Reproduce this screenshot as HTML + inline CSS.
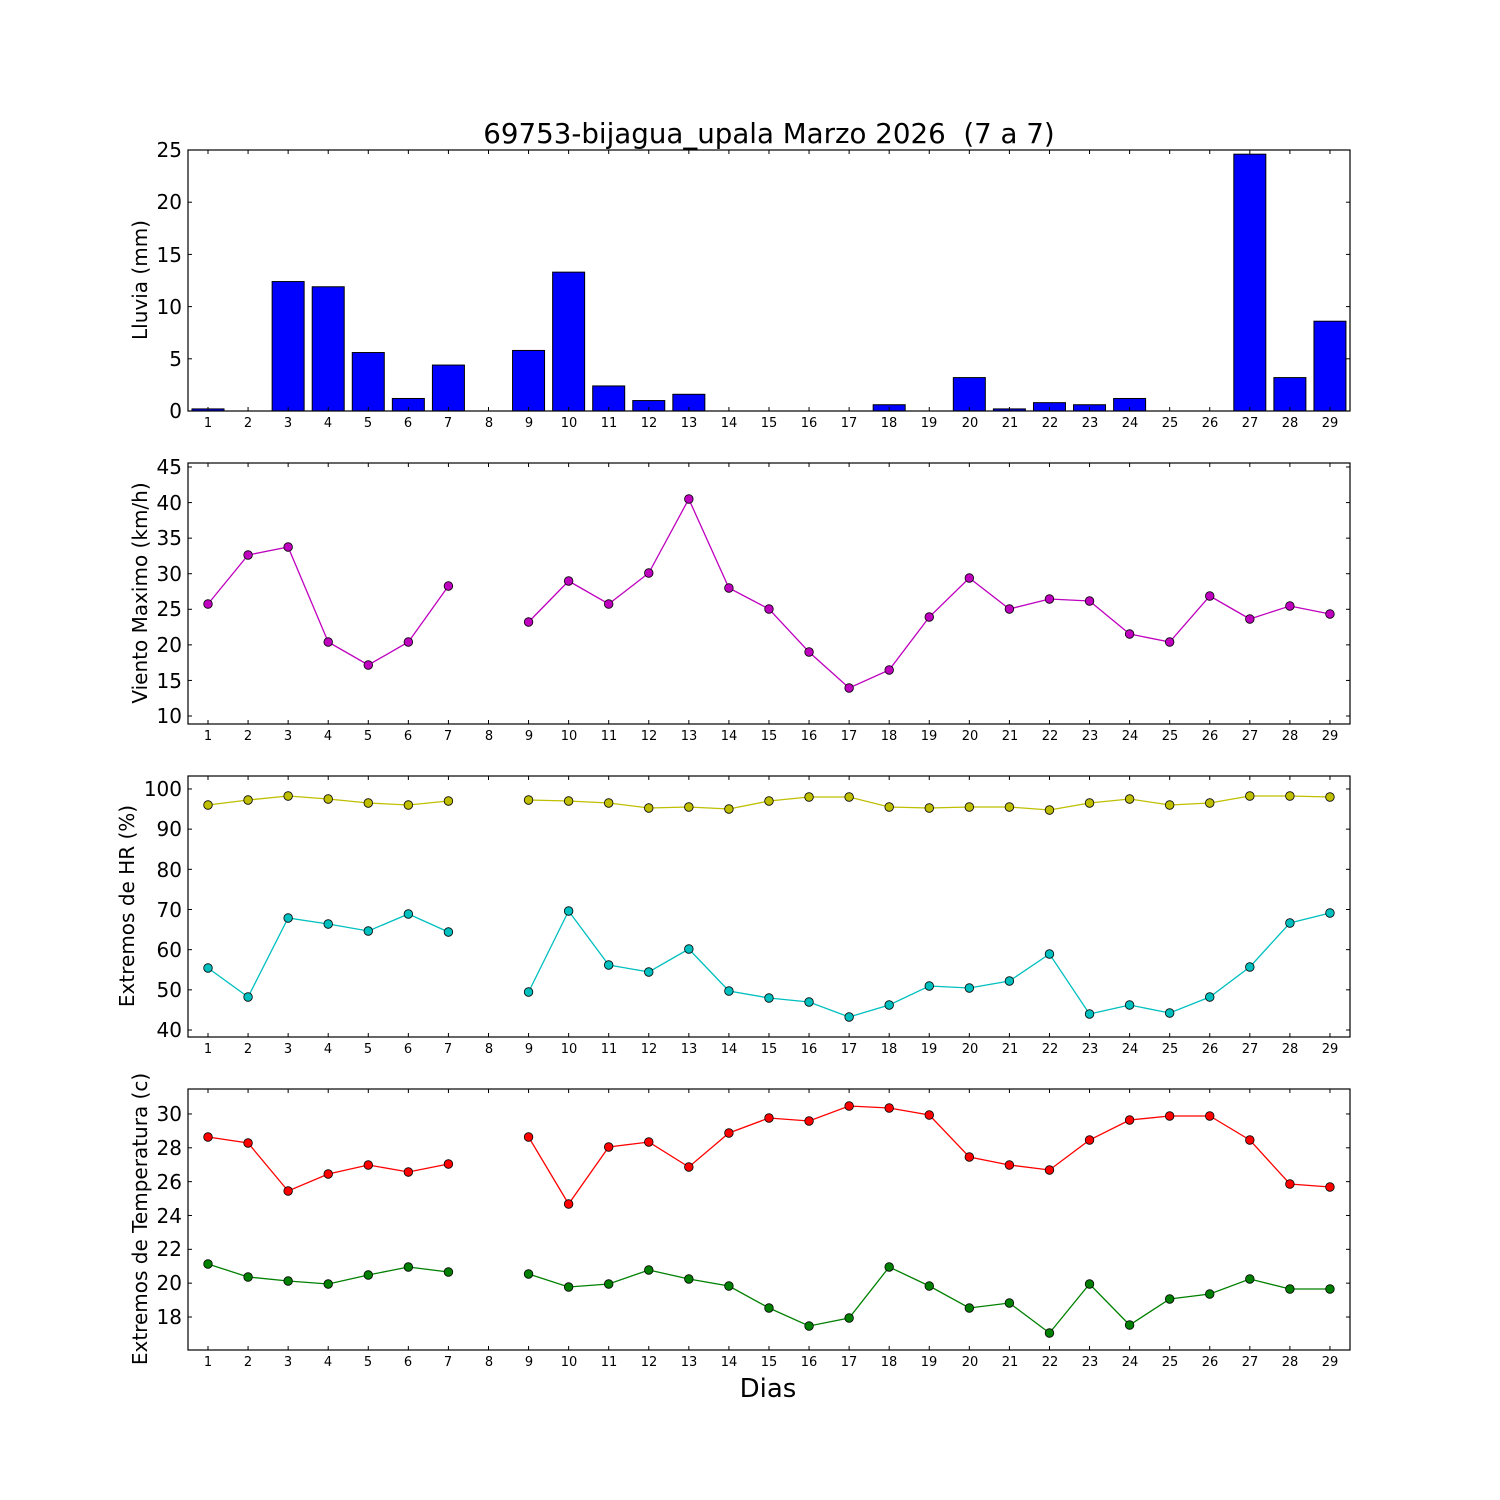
<!DOCTYPE html>
<html><head><meta charset="utf-8"><style>
body{margin:0;background:#fff}
svg{display:block}
text{font-family:"DejaVu Sans","Liberation Sans",sans-serif;fill:#000}
.yt{font-size:20px;text-anchor:end}
.xt{font-size:13px;text-anchor:middle}
.yl{font-size:20px;text-anchor:middle}
</style></head><body>
<svg id="s" width="1500" height="1500" xmlns="http://www.w3.org/2000/svg">
<rect width="1500" height="1500" fill="#fff"/>
<g id="shapes"></g>
<text x="769" y="143" font-size="27.7" text-anchor="middle" style="white-space:pre" xml:space="preserve">69753-bijagua_upala Marzo 2026  (7 a 7)</text>
<text x="768" y="1397" font-size="26" text-anchor="middle">Dias</text>
<text class="yl" transform="translate(147,280) rotate(-90)">Lluvia (mm)</text>
<text class="yl" transform="translate(147,593) rotate(-90)">Viento Maximo (km/h)</text>
<text class="yl" transform="translate(134,906) rotate(-90)">Extremos de HR (%)</text>
<text class="yl" transform="translate(147,1219) rotate(-90)">Extremos de Temperatura (c)</text>
<g class="yt">
<text x="182" y="418">0</text><text x="182" y="366">5</text><text x="182" y="314">10</text><text x="182" y="262">15</text><text x="182" y="209">20</text><text x="182" y="157">25</text>
<text x="182" y="723">10</text><text x="182" y="688">15</text><text x="182" y="652">20</text><text x="182" y="616">25</text><text x="182" y="581">30</text><text x="182" y="545">35</text><text x="182" y="510">40</text><text x="182" y="474">45</text>
<text x="182" y="1037">40</text><text x="182" y="997">50</text><text x="182" y="957">60</text><text x="182" y="917">70</text><text x="182" y="877">80</text><text x="182" y="836">90</text><text x="182" y="796">100</text>
<text x="182" y="1324">18</text><text x="182" y="1290">20</text><text x="182" y="1256">22</text><text x="182" y="1223">24</text><text x="182" y="1189">26</text><text x="182" y="1155">28</text><text x="182" y="1121">30</text>
</g>
<g class="xt">
<g transform="translate(0,427)"><text x="208">1</text><text x="248">2</text><text x="288">3</text><text x="328">4</text><text x="368">5</text><text x="408">6</text><text x="448">7</text><text x="489">8</text><text x="529">9</text><text x="569">10</text><text x="609">11</text><text x="649">12</text><text x="689">13</text><text x="729">14</text><text x="769">15</text><text x="809">16</text><text x="849">17</text><text x="889">18</text><text x="929">19</text><text x="970">20</text><text x="1010">21</text><text x="1050">22</text><text x="1090">23</text><text x="1130">24</text><text x="1170">25</text><text x="1210">26</text><text x="1250">27</text><text x="1290">28</text><text x="1330">29</text></g>
<g transform="translate(0,740)"><text x="208">1</text><text x="248">2</text><text x="288">3</text><text x="328">4</text><text x="368">5</text><text x="408">6</text><text x="448">7</text><text x="489">8</text><text x="529">9</text><text x="569">10</text><text x="609">11</text><text x="649">12</text><text x="689">13</text><text x="729">14</text><text x="769">15</text><text x="809">16</text><text x="849">17</text><text x="889">18</text><text x="929">19</text><text x="970">20</text><text x="1010">21</text><text x="1050">22</text><text x="1090">23</text><text x="1130">24</text><text x="1170">25</text><text x="1210">26</text><text x="1250">27</text><text x="1290">28</text><text x="1330">29</text></g>
<g transform="translate(0,1053)"><text x="208">1</text><text x="248">2</text><text x="288">3</text><text x="328">4</text><text x="368">5</text><text x="408">6</text><text x="448">7</text><text x="489">8</text><text x="529">9</text><text x="569">10</text><text x="609">11</text><text x="649">12</text><text x="689">13</text><text x="729">14</text><text x="769">15</text><text x="809">16</text><text x="849">17</text><text x="889">18</text><text x="929">19</text><text x="970">20</text><text x="1010">21</text><text x="1050">22</text><text x="1090">23</text><text x="1130">24</text><text x="1170">25</text><text x="1210">26</text><text x="1250">27</text><text x="1290">28</text><text x="1330">29</text></g>
<g transform="translate(0,1366)"><text x="208">1</text><text x="248">2</text><text x="288">3</text><text x="328">4</text><text x="368">5</text><text x="408">6</text><text x="448">7</text><text x="489">8</text><text x="529">9</text><text x="569">10</text><text x="609">11</text><text x="649">12</text><text x="689">13</text><text x="729">14</text><text x="769">15</text><text x="809">16</text><text x="849">17</text><text x="889">18</text><text x="929">19</text><text x="970">20</text><text x="1010">21</text><text x="1050">22</text><text x="1090">23</text><text x="1130">24</text><text x="1170">25</text><text x="1210">26</text><text x="1250">27</text><text x="1290">28</text><text x="1330">29</text></g>
</g>
</svg>
<script>
var NS="http://www.w3.org/2000/svg",G=document.getElementById("shapes");
function el(t,a){var e=document.createElementNS(NS,t);for(var k in a)e.setAttribute(k,a[k]);G.appendChild(e);return e;}
function X(d){return 208+(d-1)*40.07;}
var rain=[0.2,0,12.4,11.9,5.6,1.2,4.4,null,5.8,13.3,2.4,1.0,1.6,0,0,0,0,0.6,0,3.2,0.2,0.8,0.6,1.2,0,0,24.6,3.2,8.6];
rain.forEach(function(v,i){if(v===null)return;var h=v*10.44;el("rect",{x:X(i+1)-16,y:411-h,width:32,height:h,fill:"#0000ff",stroke:"#000","stroke-width":1});});
var series=[
 {c:"#bf00bf",p:[604,555,547,642,665,642,586,null,622,581,604,573,499,588,609,652,688,670,617,578,609,599,601,634,642,596,619,606,614]},
 {c:"#bfbf00",p:[805,800,796,799,803,805,801,null,800,801,803,808,807,809,801,797,797,807,808,807,807,810,803,799,805,803,796,796,797]},
 {c:"#00bfbf",p:[968,997,918,924,931,914,932,null,992,911,965,972,949,991,998,1002,1017,1005,986,988,981,954,1014,1005,1013,997,967,923,913]},
 {c:"#ff0000",p:[1137,1143,1191,1174,1165,1172,1164,null,1137,1204,1147,1142,1167,1133,1118,1121,1106,1108,1115,1157,1165,1170,1140,1120,1116,1116,1140,1184,1187]},
 {c:"#008000",p:[1264,1277,1281,1284,1275,1267,1272,null,1274,1287,1284,1270,1279,1286,1308,1326,1318,1267,1286,1308,1303,1333,1284,1325,1299,1294,1279,1289,1289]}];
series.forEach(function(s){
 var segs=[[]];s.p.forEach(function(y,i){if(y===null){segs.push([]);return;}segs[segs.length-1].push(X(i+1).toFixed(1)+","+y);});
 segs.forEach(function(sg){if(sg.length>1)el("polyline",{points:sg.join(" "),fill:"none",stroke:s.c,"stroke-width":1.3});});
 s.p.forEach(function(y,i){if(y!==null)el("circle",{cx:X(i+1),cy:y,r:4.3,fill:s.c,stroke:"#000","stroke-width":0.8});});
});
var panels=[[150,411,[0,5,10,15,20,25].map(function(v){return 411-v*10.44})],
 [463,724,[10,15,20,25,30,35,40,45].map(function(v){return 716-(v-10)*7.114})],
 [776,1037,[40,50,60,70,80,90,100].map(function(v){return 1030-(v-40)*4.017})],
 [1089,1350,[18,20,22,24,26,28,30].map(function(v){return 1317-(v-18)*16.92})]];
panels.forEach(function(p){
 var t=p[0],b=p[1];
 for(var d=1;d<=29;d++){var x=X(d);el("line",{x1:x,x2:x,y1:b,y2:b-4,stroke:"#000"});el("line",{x1:x,x2:x,y1:t,y2:t+4,stroke:"#000"});}
 p[2].forEach(function(y){el("line",{x1:188,x2:192,y1:y,y2:y,stroke:"#000"});el("line",{x1:1350,x2:1346,y1:y,y2:y,stroke:"#000"});});
 el("rect",{x:188,y:t,width:1162,height:b-t,fill:"none",stroke:"#000","stroke-width":1.2});
});
</script>
</body></html>
